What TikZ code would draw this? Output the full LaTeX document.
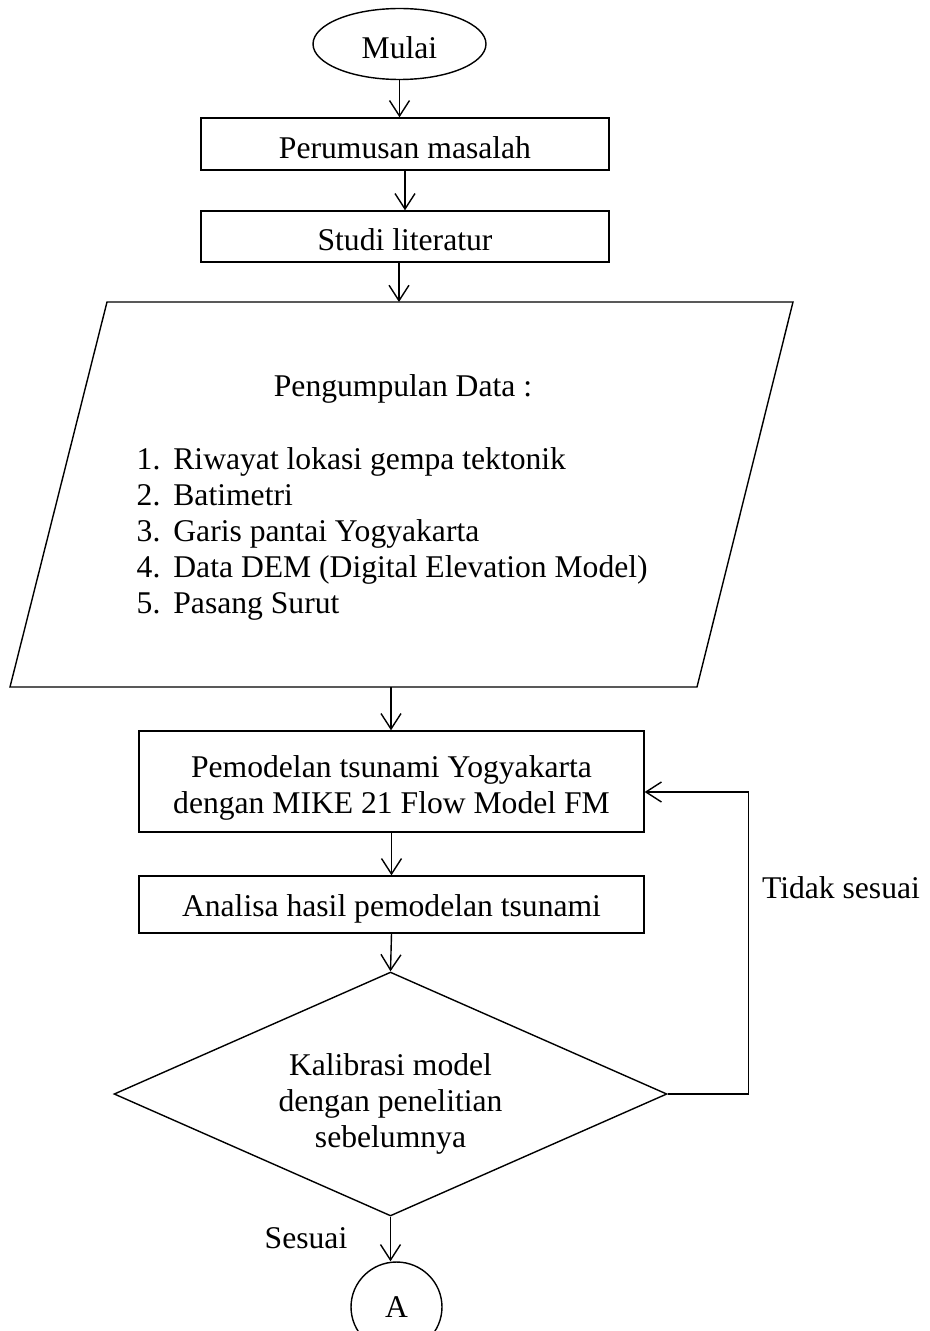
\documentclass[tikz,border=0pt]{standalone}
\usepackage{fontspec}
\setmainfont{Liberation Serif}
\usetikzlibrary{positioning,shapes.geometric,arrows.meta}

\newcommand{\turun}[2]{\raisebox{-#1}[\height][\depth]{#2}}

\begin{document}
\begin{tikzpicture}[x=0.02cm, y=-0.02cm, line width=0.8pt,
    font=\fontsize{18}{20.5}\selectfont,
    box/.style={draw, rectangle, inner sep=0pt, align=center},
    arr/.style={-{Straight Barb[length=3.1mm, width=4mm]}}]
    \useasboundingbox (0,0) rectangle (929,1331);

    \node[draw, ellipse, minimum width=3.46cm, minimum height=1.42cm, inner sep=0pt] (mulai) at (399.5,44) {\turun{0.08cm}{Mulai}};
    \node[box, minimum width=8.16cm, minimum height=1.04cm] (rumusan) at (405,144) {\turun{0.08cm}{Perumusan masalah}};
    \node[box, minimum width=8.16cm, minimum height=1.02cm] (studi) at (405,236.5) {\turun{0.07cm}{Studi literatur}};

    % input data
    \draw (107,302) -- (793,302) -- (697,687) -- (10,687) -- cycle;
    \coordinate (dataatas) at (399,302);
    \coordinate (databawah) at (391,687);
    \node (judul) at (403,389) {Pengumpulan Data :};
    \node[anchor=west, inner sep=0pt] (daftar) at (136,534) {%
        \begin{tabular}{@{}l@{\hspace{0.26cm}}l@{}}
        1. & Riwayat lokasi gempa tektonik\\
        2. & Batimetri\\
        3. & Garis pantai Yogyakarta\\
        4. & Data DEM (Digital Elevation Model)\\
        5. & Pasang Surut
        \end{tabular}};

    \node[box, minimum width=10.1cm, minimum height=2.02cm] (model) at (391.5,781.5) {\turun{0.14cm}{\begin{tabular}{@{}c@{}}Pemodelan tsunami Yogyakarta\\dengan MIKE 21 Flow Model FM\end{tabular}}};
    \node[box, minimum width=10.1cm, minimum height=1.14cm] (analisa) at (391.5,904.5) {\turun{0.09cm}{Analisa hasil pemodelan tsunami}};
    \node[draw, diamond, shape aspect=2.27, minimum width=11.06cm, minimum height=4.88cm, inner sep=0pt] (kalibrasi) at (390.5,1094) {\turun{0.2cm}{\begin{tabular}{@{}c@{}}Kalibrasi model\\dengan penelitian\\sebelumnya\end{tabular}}};
    \node[draw, ellipse, minimum width=1.82cm, minimum height=1.8cm, inner sep=0pt] (A) at (396.5,1307) {A};

    \draw[arr] (mulai.south) -- (mulai.south |- rumusan.north);
    \draw[arr] (rumusan.south) -- (studi.north);
    \draw[arr] (dataatas |- studi.south) -- (dataatas);
    \draw[arr] (databawah) -- (databawah |- model.north);
    \draw[arr] (model.south) -- (analisa.north);
    \draw[arr] (analisa.south) -- (kalibrasi.north);
    \draw[arr] (kalibrasi.east) -- ++(81,0) |- ([yshift=-0.21cm]model.east);
    \draw[arr] (kalibrasi.south) -- (kalibrasi.south |- A.north);

    \node (tidak) at (841,888) {Tidak sesuai};
    \node (sesuai) at (306,1238) {Sesuai};
\end{tikzpicture}
\end{document}
